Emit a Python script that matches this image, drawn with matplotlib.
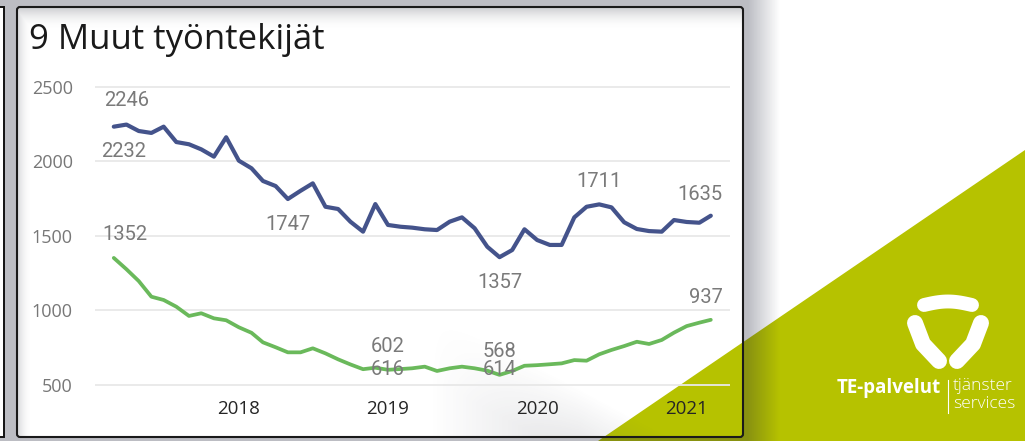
import numpy as np
import pandas as pd
import matplotlib
matplotlib.use("Agg")
import matplotlib.pyplot as plt
from matplotlib.patches import Polygon, FancyBboxPatch, Rectangle

# ---------------- data ----------------
title = "9 Muut työntekijät"
months = pd.date_range("2017-03-01", "2021-03-01", freq="MS")
blue_values = [2232, 2246, 2203, 2190, 2232, 2129, 2114, 2080, 2031, 2161,
               2004, 1953, 1868, 1834, 1747, 1802, 1852, 1695, 1680, 1595,
               1528, 1713, 1573, 1561, 1555, 1544, 1539, 1595, 1624, 1551,
               1427, 1357, 1405, 1544, 1472, 1439, 1439, 1624, 1695, 1711,
               1691, 1591, 1546, 1532, 1528, 1606, 1593, 1588, 1635]
green_values = [1352, 1276, 1197, 1092, 1070, 1025, 963, 981, 947, 934,
                887, 850, 786, 753, 719, 719, 746, 712, 672, 638,
                606, 616, 602, 607, 612, 623, 594, 612, 623, 612,
                596, 568, 594, 629, 633, 639, 645, 667, 663, 706,
                735, 761, 790, 775, 802, 851, 895, 918, 937]
y_ticks = [500, 1000, 1500, 2000, 2500]
year_ticks = ["2018", "2019", "2020", "2021"]
blue_label_idx = [0, 1, 14, 31, 39, 48]
green_label_idx = [0, 22, 31, 48]
extra_label_idx = [22, 31]
extra_label_values = [616, 614]

BLUE = "#44538b"
GREEN = "#6ab95b"
LIME = "#b6c200"

W, H = 1025, 441
fig = plt.figure(figsize=(W / 100, H / 100), dpi=100)
fig.patch.set_facecolor("white")

# ---------------- background (pixel coordinates) ----------------
bg = fig.add_axes([0, 0, 1, 1])
bg.axis("off")

tri = [(598, 441), (1025, 150), (1025, 441)]
bg.add_patch(Polygon(tri, closed=True, fc=LIME, ec="none", zorder=1))

xs = np.arange(W) + 0.5
ys = np.arange(H) + 0.5
X, Y = np.meshgrid(xs, ys)
a = np.clip((780 - xs) / 32.0, 0, 1) * 0.30
rgba = np.zeros((H, W, 4))
rgba[..., 0], rgba[..., 1], rgba[..., 2] = 0.12, 0.14, 0.22
rgba[..., 3] = a[None, :]
bg.imshow(rgba, extent=(0, W, H, 0), zorder=2, aspect="auto", interpolation="bilinear")

# neighbouring panel edge on the left
bg.add_patch(Rectangle((-20, 7), 24, 430, fc="white", ec="#111111", lw=1.4, zorder=3))

panel = FancyBboxPatch((17, 7), 726, 430, boxstyle="round,pad=0,rounding_size=3",
                       fc="white", ec="none", zorder=3)
bg.add_patch(panel)
lime_in = Polygon(tri, closed=True, fc=LIME, ec="none", zorder=4)
bg.add_patch(lime_in)
lime_in.set_clip_path(panel)

# soft grey diagonal shading inside the panel
d = (Y - 312) - (X - 437) * (105 / 196.0)
shade = np.clip(d / 70.0, 0, 1) * np.clip((X - 430) / 150.0, 0, 1) * 0.18
sh = np.zeros((H, W, 4))
sh[..., 0], sh[..., 1], sh[..., 2] = 0.35, 0.36, 0.40
sh[..., 3] = shade
im = bg.imshow(sh, extent=(0, W, H, 0), zorder=5, aspect="auto", interpolation="bilinear")
im.set_clip_path(panel)

# inner shadow at top / left of panel
inner = np.zeros((H, W, 4))
inner[..., 0], inner[..., 1], inner[..., 2] = 0.45, 0.46, 0.5
inner[..., 3] = np.maximum(np.clip((30 - Y) / 22.0, 0, 1) ** 2 * 0.35,
                           np.clip((32 - X) / 15.0, 0, 1) ** 2 * 0.30)
im2 = bg.imshow(inner, extent=(0, W, H, 0), zorder=5, aspect="auto", interpolation="bilinear")
im2.set_clip_path(panel)

bg.add_patch(FancyBboxPatch((17, 7), 726, 430, boxstyle="round,pad=0,rounding_size=3",
                            fc="none", ec="#1a1a1a", lw=1.5, zorder=7))

# logo: three rounded pieces
tx = np.linspace(924, 972, 21)
bg.plot(tx, 305 - 3.5 * np.sin(np.pi * (tx - 924) / 48), color="white", lw=10,
        solid_capstyle="round", zorder=8)
bg.plot([915, 923, 939], [323, 344, 361], color="white", lw=11.5,
        solid_capstyle="round", solid_joinstyle="round", zorder=8)
bg.plot([981, 973, 957], [323, 344, 361], color="white", lw=11.5,
        solid_capstyle="round", solid_joinstyle="round", zorder=8)

bg.plot([948, 948], [380, 413], color="white", lw=0.8, zorder=8)
bg.text(941, 388, "TE-palvelut", color="white", fontsize=13.5, fontweight="bold",
        family="Open Sans", ha="right", va="center", zorder=8)
bg.text(953, 386, "tjänster", color="white", fontsize=12.5, fontweight="light",
        family="Open Sans", ha="left", va="center", zorder=8)
bg.text(953, 404, "services", color="white", fontsize=12.5, fontweight="light",
        family="Open Sans", ha="left", va="center", zorder=8)

bg.set_xlim(0, W)
bg.set_ylim(H, 0)

# title
fig.text(29 / W, 1 - 49 / H, title, fontsize=25, family="Open Sans", color="#1a1a1a",
         ha="left", va="baseline")

# ---------------- chart ----------------
top_px, bot_px = 75, 392
ax = fig.add_axes([95 / W, 1 - bot_px / H, 635 / W, (bot_px - top_px) / H])
ax.set_facecolor("none")
ax.set_zorder(10)
ppv = (385 - 86.7) / 2000.0
ax.set_ylim(500 - (bot_px - 385) / ppv, 2500 + (86.7 - top_px) / ppv)
ax.set_xlim(months[0] - pd.Timedelta(days=46), months[-1] + pd.Timedelta(days=47))

ax.plot(months, blue_values, color=BLUE, lw=3.0, solid_joinstyle="round",
        solid_capstyle="round", zorder=3)
ax.plot(months, green_values, color=GREEN, lw=2.7, solid_joinstyle="round",
        solid_capstyle="round", zorder=3)

ax.set_yticks(y_ticks)
ax.set_yticklabels([str(v) for v in y_ticks])
ax.set_xticks([pd.Timestamp(f"{y}-01-01") for y in year_ticks])
ax.set_xticklabels(year_ticks)
ax.grid(axis="y", color="#e8e8e8", lw=1.3)
ax.set_axisbelow(True)
for s in ax.spines.values():
    s.set_visible(False)
ax.tick_params(axis="both", length=0)
ax.tick_params(axis="y", pad=16, labelcolor="#777777", labelsize=13)
ax.tick_params(axis="x", pad=6, labelcolor="#252525", labelsize=13.5)
for lab in ax.get_xticklabels() + ax.get_yticklabels():
    lab.set_family("Open Sans")

lab_kw = dict(textcoords="offset pixels", ha="center", va="center",
              fontsize=14.5, color="#7a7a7a", family="Roboto", zorder=5)
blue_off = {0: (10, -25), 1: (0, 24), 14: (0, -25), 31: (0, -25), 39: (0, 23), 48: (-11, 21)}
for i in blue_label_idx:
    ax.annotate(str(blue_values[i]), (months[i], blue_values[i]), xytext=blue_off[i], **lab_kw)
green_off = {0: (11, 23), 22: (0, 23), 31: (0, 23), 48: (-5, 22)}
for i in green_label_idx:
    ax.annotate(str(green_values[i]), (months[i], green_values[i]), xytext=green_off[i], **lab_kw)
extra_off = {22: (0, 0), 31: (0, 5)}
for i, v in zip(extra_label_idx, extra_label_values):
    ax.annotate(str(v), (months[i], green_values[i]), xytext=extra_off[i], **lab_kw)

fig.savefig("out.png", dpi=100)
